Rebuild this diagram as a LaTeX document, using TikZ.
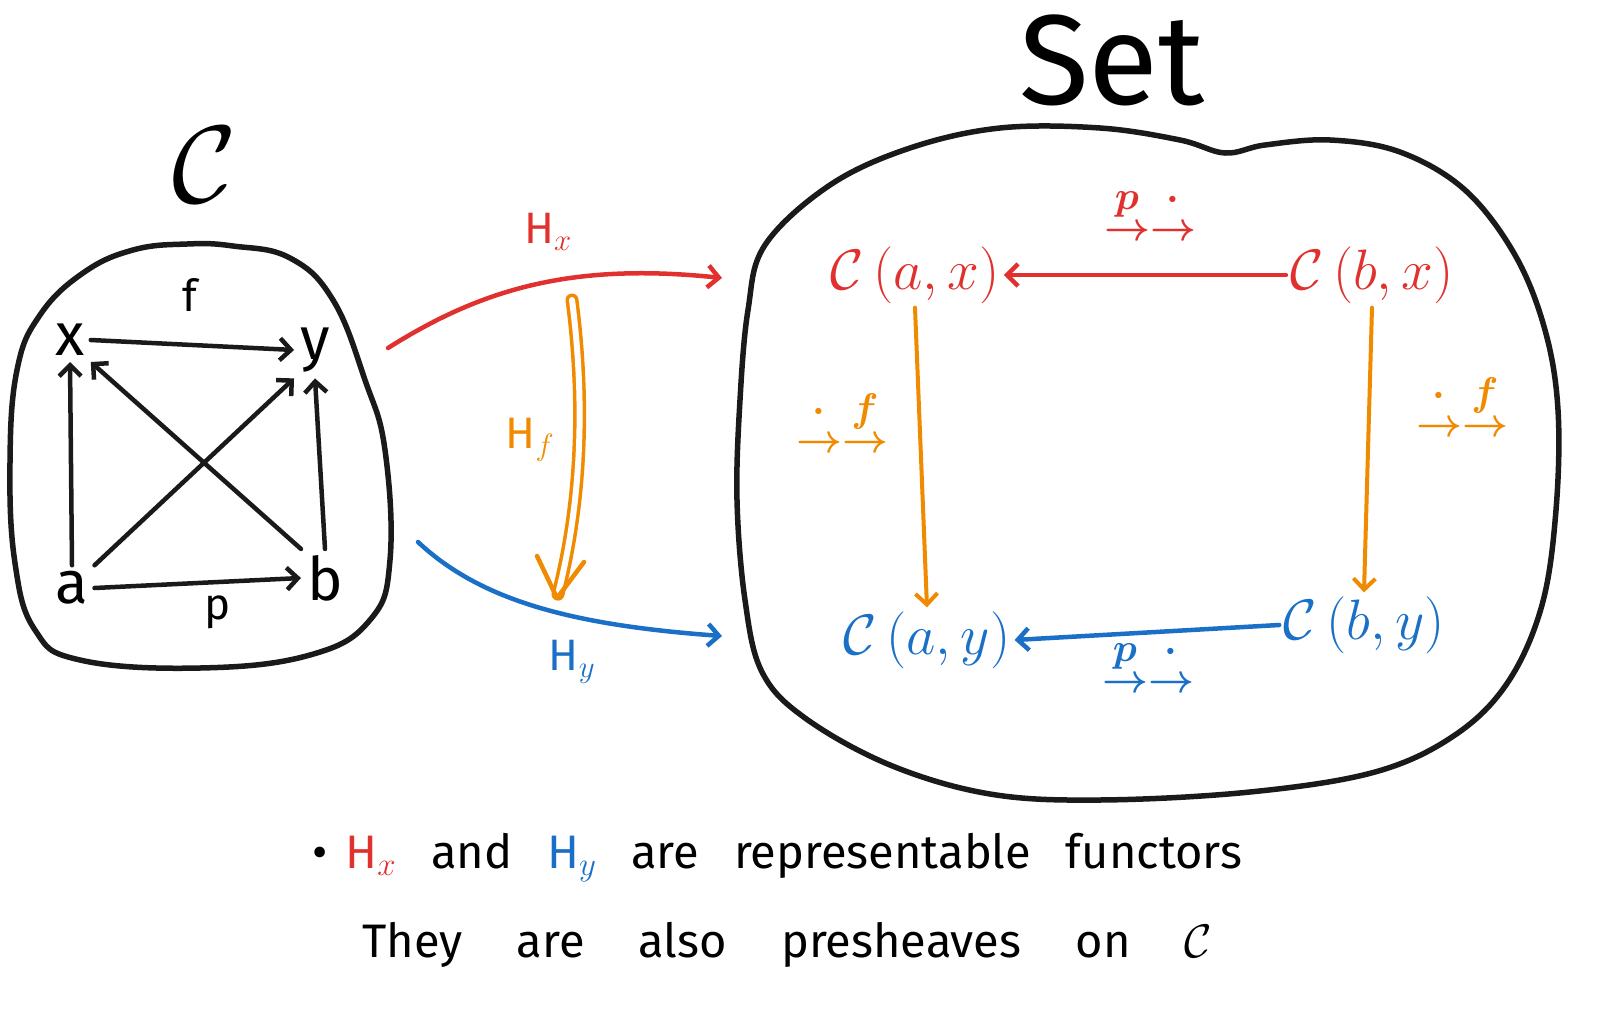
\RequirePackage{fix-cm}
\documentclass[tikz,border=0pt]{standalone}
\usepackage{amsmath}
\usepackage{fontspec}
\setmainfont{Fira Sans}
\usetikzlibrary{arrows.meta,calc}
\definecolor{cred}{HTML}{E0312F}
\definecolor{cblue}{HTML}{1A6FC6}
\definecolor{corange}{HTML}{F08A00}
\definecolor{cblack}{HTML}{1A1A1A}
\newcommand{\twoarr}[2]{\begin{array}{@{}c@{}c@{}} #1 & #2 \\[-13pt] \rightarrow & \rightarrow \end{array}}
\tikzset{
  blob/.style={draw=cblack, line width=5.5pt, line cap=round, line join=round},
  arr/.style={-{Straight Barb[length=11pt,width=22pt]}, line width=4.5pt, line cap=round, line join=round},
  objnode/.style={font=\fontsize{60}{62}\selectfont, inner sep=6pt},
  homnode/.style={font=\fontsize{57}{60}\selectfont, inner sep=4pt},
  lbl/.style={font=\fontsize{44}{48}\selectfont, inner sep=2pt},
  sublbl/.style={font=\fontsize{40}{44}\selectfont\boldmath, inner sep=2pt},
  bodytext/.style={font=\fontsize{47}{50}\selectfont, inner sep=0pt, anchor=west, align=left},
}
\begin{document}
\begin{tikzpicture}[x=1pt,y=-1pt]
\useasboundingbox (0,0) rectangle (1618,1017);

% ---------- left category C ----------
\node[font=\fontsize{110}{110}\selectfont] (ctitle) at (205,165) {$\mathcal{C}$};
\draw[blob] plot[smooth cycle, tension=0.7] coordinates {
  (233,246) (187,244) (133,250) (83,273) (40,315) (17,370) (10,463) (15,563)
  (35,630) (80,660) (200,668) (310,655) (370,620) (390,560) (385,450)
  (365,380) (333,300) (290,258)};

\node[objnode] (x) at (70,340) {x};
\node[objnode] (y) at (315,350) {y};
\node[objnode] (a) at (72,588) {a};
\node[objnode] (b) at (325,578) {b};
\node[lbl] (flbl) at (190,295) {f};
\node[lbl] (plbl) at (218,612) {p};

\draw[arr, cblack] (x.east) -- (y.west);
\draw[arr, cblack] (a.east) -- (b.west);
\draw[arr, cblack] (a.north) -- (x.south);
\draw[arr, cblack] (b.north) -- (y.south);
\draw[arr, cblack] (a.north east) -- (y.south west);
\draw[arr, cblack] (b.north west) -- (x.south east);

% ---------- Set ----------
\node[font=\fontsize{128}{130}\selectfont] (settitle) at (1112,60) {Set};
\draw[blob] plot[smooth cycle, tension=0.6] coordinates {
  (1000,128) (1100,128) (1180,140) (1225,153) (1265,145) (1330,140)
  (1400,152) (1465,190) (1515,255) (1545,330) (1558,410) (1556,510)
  (1542,605) (1508,682) (1455,735) (1375,772) (1250,792) (1100,800)
  (990,794) (890,765) (805,718) (762,672) (745,600) (737,500) (740,400)
  (748,310) (765,245) (830,185) (910,148)};

\node[homnode, text=cred] (ax) at (915,275) {$\mathcal{C}\,(a,x)$};
\node[homnode, text=cred] (bx) at (1372,275) {$\mathcal{C}\,(b,x)$};
\node[homnode, text=cblue] (ay) at (927,640) {$\mathcal{C}\,(a,y)$};
\node[homnode, text=cblue] (by) at (1364,625) {$\mathcal{C}\,(b,y)$};

\draw[arr, cred] (bx.west) -- (ax.east);
\draw[arr, cblue] (by.west) -- (ay.east);
\draw[arr, corange, line width=4pt] (ax.south) -- (ay.north);
\draw[arr, corange, line width=4pt] (bx.south) -- (by.north);

\node[sublbl, text=cred] (pxl) at (1150,216) {$\twoarr{p}{\cdot}$};
\node[sublbl, text=cblue] (pyl) at (1148,668) {$\twoarr{p}{\cdot}$};
\node[sublbl, text=corange] (fal) at (842,428) {$\twoarr{\cdot}{f}$};
\node[sublbl, text=corange] (fbl) at (1462,412) {$\twoarr{\cdot}{f}$};

% ---------- functors ----------
\coordinate (hxs) at (388,348);
\coordinate (hxe) at (722,278);
\coordinate (hys) at (418,542);
\coordinate (hye) at (722,636);
\coordinate (hfs) at (572,300);
\coordinate (hfe) at (557,598);

\draw[arr, cred] (hxs) .. controls (480,290) and (570,262) .. (hxe);
\draw[arr, cblue] (hys) .. controls (480,600) and (570,625) .. (hye);
\draw[corange, line width=3.5pt, double=white, double distance=6pt, line cap=round, shorten >=4pt]
  (hfs) .. controls (585,400) and (582,500) .. (hfe);
\draw[corange, line width=4.5pt, line cap=round, line join=round]
  ($(hfe)+(-20,-42)$) -- (hfe) -- ($(hfe)+(27,-36)$);

\node[lbl, text=cred] (hxl) at (548,232) {H$_x$};
\node[lbl, text=cblue] (hyl) at (572,662) {H$_y$};
\node[lbl, text=corange] (hfl) at (530,440) {H$_f$};

% ---------- bottom text ----------
\node[bodytext, text width=930pt] (line1) at (312,858) {\textbullet\hspace{18pt}{\color{cred}H$_x$}\hfill and\hfill {\color{cblue}H$_y$}\hfill are\hfill representable\hfill functors};
\node[bodytext, text width=850pt] (line2) at (362,945) {They\hfill are\hfill also\hfill presheaves\hfill on\hfill $\mathcal{C}$};
\end{tikzpicture}
\end{document}
